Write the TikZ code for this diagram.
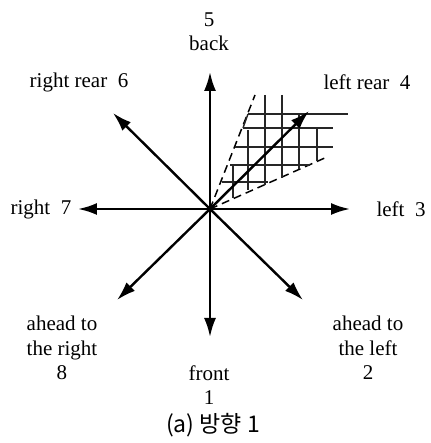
\documentclass[tikz,border=0pt]{standalone}
\usepackage{fontspec}
\setmainfont{Liberation Serif}
\newfontfamily\capfont{Noto Sans CJK KR}
\usetikzlibrary{arrows.meta,positioning}

\begin{document}
\begin{tikzpicture}[x=1pt,y=1pt,
  dirarrow/.style={-{Latex[length=19pt,width=12pt]},line width=2.4pt,black},
  dirlabel/.style={align=center,font=\fontsize{21}{24.5}\selectfont,inner sep=0pt},
  hatch/.style={line width=1.4pt,black!85},
  edge/.style={line width=1.5pt,dash pattern=on 8pt off 5pt}]
  \useasboundingbox (-210,-234) rectangle (220,209);
  % centre and arrow tips
  \coordinate (o) at (0,0);
  \coordinate (t1) at (0,-128);
  \coordinate (t2) at (93,-91);
  \coordinate (t3) at (140,0);
  \coordinate (t4) at (99,98);
  \coordinate (t5) at (0,137);
  \coordinate (t6) at (-97,96);
  \coordinate (t7) at (-132,0);
  \coordinate (t8) at (-93,-91);
  % hatched sector round direction 4
  \coordinate (e1) at (45,114);
  \coordinate (e2) at (117,52);
  \draw[edge] (o) -- (e1);
  \draw[edge] (o) -- (e2);
  \draw[hatch] (38,95) -- (138,95);
  \draw[hatch] (33,81) -- (123,81);
  \draw[hatch] (25,62) -- (123,62);
  \draw[hatch] (20,44) -- (100,44);
  \draw[hatch] (12,27) -- (58,27);
  \draw[hatch] (38,95) -- (33,81);
  \draw[hatch] (23,44) -- (23,11);
  \draw[hatch] (38,79) -- (38,19);
  \draw[hatch] (55,114) -- (55,24);
  \draw[hatch] (72,114) -- (72,31);
  \draw[hatch] (89,95) -- (89,40);
  \draw[hatch] (107,81) -- (107,48);
  % the eight directions
  \foreach \t in {t1,t2,t3,t4,t5,t6,t7,t8}
    \draw[dirarrow] (o) -- (\t);
  % labels
  \node[dirlabel] (l5) at (-1,177.5) {5\\back};
  \node[dirlabel] (l6) at (-131,127) {right rear\enspace6};
  \node[dirlabel] (l4) at (157,127) {left rear\enspace4};
  \node[dirlabel] (l7) at (-169,0) {right\enspace7};
  \node[dirlabel] (l3) at (191,0) {left\enspace3};
  \node[dirlabel] (l8) at (-148,-139) {ahead to\\the right\\8};
  \node[dirlabel] (l1) at (-1,-176) {front\\1};
  \node[dirlabel] (l2) at (158,-139) {ahead to\\the left\\2};
  \node[inner sep=0pt,font=\capfont\fontsize{23}{26}\selectfont] (cap) at (3,-216) {(a) 방향 1};
\end{tikzpicture}
\end{document}
